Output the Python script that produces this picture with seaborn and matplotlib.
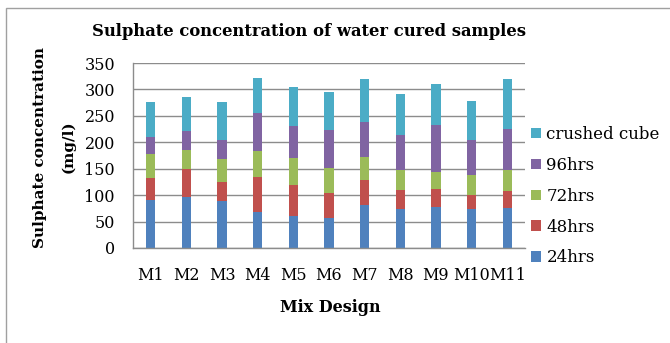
import numpy as np
import pandas as pd
import matplotlib
matplotlib.use("Agg")
import matplotlib.pyplot as plt
import seaborn as sns
from matplotlib.patches import Rectangle

mixes = ["M1", "M2", "M3", "M4", "M5", "M6", "M7", "M8", "M9", "M10", "M11"]
h24 = [91, 96, 88, 68, 61, 57, 81, 74, 78, 74, 75]
h48 = [41, 54, 37, 67, 59, 48, 47, 35, 34, 27, 33]
h72 = [45, 35, 43, 49, 51, 46, 45, 38, 32, 37, 40]
h96 = [33, 36, 37, 72, 59, 73, 65, 67, 89, 66, 77]
crushed = [66, 64, 71, 66, 74, 71, 82, 77, 78, 74, 95]

series_names = ["24hrs", "48hrs", "72hrs", "96hrs", "crushed cube"]
series_vals = [h24, h48, h72, h96, crushed]
colors = ["#4F81BD", "#C0504D", "#9BBB59", "#8064A2", "#4BACC6"]

sns.set_theme(style="white")
plt.rcParams["font.family"] = ["DejaVu Serif"]
plt.rcParams["text.color"] = "black"

W, H = 670, 343
fig = plt.figure(figsize=(6.7, 3.43), dpi=100)
ax = fig.add_axes([133 / W, 1 - 248 / H, (525 - 133) / W, (248 - 63) / H])

bottom = np.zeros(len(mixes))
for name, vals, c in zip(series_names, series_vals, colors):
    sns.barplot(x=mixes, y=vals, bottom=bottom, color=c, width=0.26,
                label=name, errorbar=None, ax=ax, saturation=1,
                edgecolor="none", linewidth=0)
    bottom = bottom + np.array(vals)

ax.set_ylim(0, 350)
ax.set_yticks(range(0, 351, 50))
ax.set_xlim(-0.5, len(mixes) - 0.5)
ax.yaxis.grid(True, color="#8c8c8c", linewidth=1)
ax.set_axisbelow(True)
for s in ["top", "right"]:
    ax.spines[s].set_visible(False)
for s in ["left", "bottom"]:
    ax.spines[s].set_color("#8c8c8c")
    ax.spines[s].set_linewidth(1)
ax.tick_params(axis="both", labelsize=11.5, colors="black", length=0)
ax.tick_params(axis="y", pad=13)
ax.tick_params(axis="x", pad=14)
ax.set_xlabel("")
ax.set_ylabel("")

fig.text(330 / W, 1 - 308 / H, "Mix Design", ha="center", va="center",
         fontsize=11.5, fontweight="bold", color="black")
fig.text(40 / W, 1 - 147 / H, "Sulphate concentration", ha="center", va="center",
         rotation=90, fontsize=11, fontweight="bold", color="black")
fig.text(68 / W, 1 - 147 / H, "(mg/l)", ha="center", va="center",
         rotation=90, fontsize=11, fontweight="bold", color="black")
fig.text(309.5 / W, 1 - 32 / H, "Sulphate concentration of water cured samples",
         ha="center", va="center", fontsize=11.8, fontweight="bold", color="black")

handles, labels = ax.get_legend_handles_labels()
leg = ax.legend(handles[::-1], labels[::-1], loc="center left", bbox_to_anchor=(0.995, 0.28),
                frameon=False, fontsize=12, handlelength=0.6, handleheight=0.6,
                labelspacing=0.83, handletextpad=0.3, borderaxespad=0.1)
for t in leg.get_texts():
    t.set_color("black")

fig.patches.append(Rectangle((6 / W, -0.1), 1.2, 1.1 - 8 / H,
                             transform=fig.transFigure, fill=False,
                             edgecolor="#a0a0a0", linewidth=1))

fig.savefig("out.png", dpi=100)
